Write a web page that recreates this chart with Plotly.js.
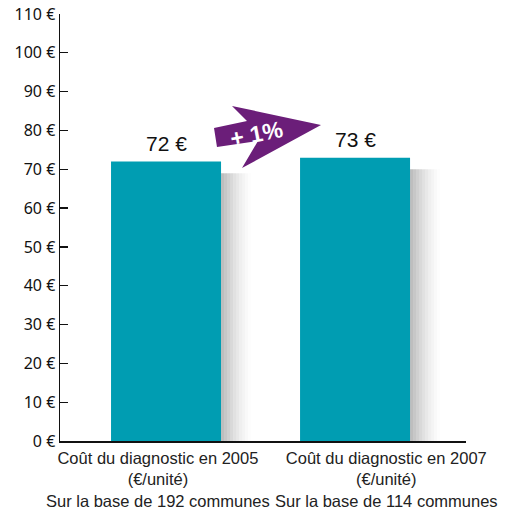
<!DOCTYPE html>
<html>
<head>
<meta charset="utf-8">
<script src="https://cdn.plot.ly/plotly-3.0.1.min.js"></script>
<style>html,body{margin:0;padding:0;background:#fff}#chart{width:508px;height:516px}</style>
</head>
<body>
<div id="chart"></div>
<script>
// ---- data ----
const categories = ["Coût du diagnostic en 2005", "Coût du diagnostic en 2007"];
const units = ["(€/unité)", "(€/unité)"];
const bases = ["Sur la base de 192 communes", "Sur la base de 114 communes"];
const values = [72, 73];
const valueLabels = ["72 €", "73 €"];
const changeLabel = "+ 1%";
const tickValues = [0, 10, 20, 30, 40, 50, 60, 70, 80, 90, 100, 110];
const tickLabels = tickValues.map(v => v + " €");

// ---- geometry helpers ----
const L = 60, R = 42, T = 14, B = 75, W = 508, H = 516;
const xRange = [-0.561, 1.587], yRange = [0, 110];
const pw = W - L - R, ph = H - T - B;
const px2x = p => xRange[0] + (p - L) / pw * (xRange[1] - xRange[0]);
const py2y = p => yRange[0] + (H - B - p) / ph * (yRange[1] - yRange[0]);
const barWidth = 0.582;
const xs = values.map((v, i) => i);

const teal = "#009db2";
const purple = "#6b1e79";

const shapes = [];
// soft shadows on the right of each bar
const steps = 10, stepPx = 3;
xs.forEach((x, i) => {
  for (let s = 0; s < steps; s++) {
    const x0 = x + barWidth / 2 + s * stepPx / pw * (xRange[1] - xRange[0]);
    const x1 = x0 + stepPx / pw * (xRange[1] - xRange[0]);
    shapes.push({type: "rect", xref: "x", yref: "y", x0: x0, x1: x1,
      y0: -2.2, y1: values[i] - 3, fillcolor: "#6e6e6e",
      opacity: 0.45 * Math.pow(1 - s / steps, 1.5), line: {width: 0}, layer: "below"});
  }
});
// arrow (decoration) in pixel positions
const arrowPx = [[214,128],[247,121],[232,106],[321,125],[242,168],[258,141],[217,147]];
shapes.push({type: "path", xref: "x", yref: "y",
  path: "M" + arrowPx.map(p => px2x(p[0]).toFixed(4) + "," + py2y(p[1]).toFixed(4)).join(" L") + " Z",
  fillcolor: purple, line: {width: 0}, layer: "above"});

const annotations = [];
values.forEach((v, i) => {
  annotations.push({x: xs[i], y: v, xref: "x", yref: "y", text: valueLabels[i],
    showarrow: false, yanchor: "bottom", yshift: 5,
    font: {family: "Liberation Sans, Arial, sans-serif", size: 21, color: "#111"}});
});
const labelPx = [158, 386];
categories.forEach((c, i) => {
  annotations.push({x: px2x(labelPx[i]), y: 0, xref: "x", yref: "paper",
    text: c + "<br>" + units[i] + "<br>" + bases[i], showarrow: false,
    yanchor: "top", yshift: -6, align: "center",
    font: {family: "Liberation Sans, Arial, sans-serif", size: 16.5, color: "#222"}});
});
annotations.push({x: px2x(256), y: py2y(134), xref: "x", yref: "y", text: "<b>" + changeLabel + "</b>",
  showarrow: false, textangle: -11,
  font: {family: "Liberation Sans, Arial, sans-serif", size: 23, color: "#fff"}});

const trace = {type: "bar", x: xs, y: values, width: barWidth,
  marker: {color: teal, line: {width: 0}}, hoverinfo: "skip"};

const layout = {
  width: W, height: H, margin: {l: L, r: R, t: T, b: B, pad: 0},
  paper_bgcolor: "#fff", plot_bgcolor: "#fff", showlegend: false,
  xaxis: {range: xRange, showticklabels: false, showgrid: false, zeroline: false,
    showline: true, linecolor: "#111", linewidth: 1.5, ticks: "", fixedrange: true},
  yaxis: {range: yRange, tickvals: tickValues, ticktext: tickLabels, showgrid: false,
    zeroline: false, showline: true, linecolor: "#111", linewidth: 1.5,
    ticks: "inside", ticklen: 8, tickwidth: 1.2, tickcolor: "#111", automargin: false,
    tickfont: {family: "Noto Sans", size: 16, color: "#111"}, fixedrange: true},
  shapes: shapes, annotations: annotations
};
Plotly.newPlot("chart", [trace], layout, {displayModeBar: false, staticPlot: true});
</script>
</body>
</html>
